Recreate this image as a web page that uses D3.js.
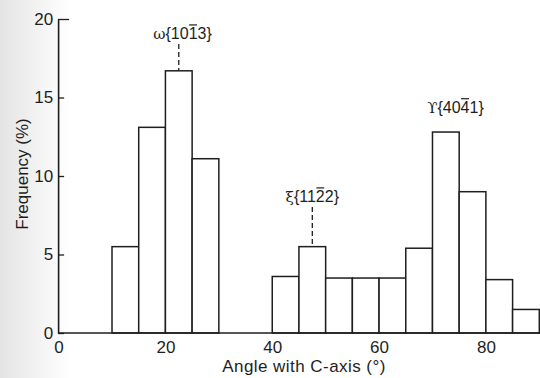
<!DOCTYPE html>
<html>
<head>
<meta charset="utf-8">
<script src="https://cdn.jsdelivr.net/npm/d3@7"></script>
<style>
  html, body { margin: 0; padding: 0; background: #fff; }
  svg { display: block; font-family: "Liberation Sans", Arial, sans-serif; }
</style>
</head>
<body>
<svg id="chart" width="540" height="378"></svg>
<script>
// Histogram of angles between twin planes and the C-axis
const binStarts = [10, 15, 20, 25, 40, 45, 50, 55, 60, 65, 70, 75, 80, 85];
const binWidth = 5;
const frequency = [5.5, 13.1, 16.7, 11.1, 3.6, 5.5, 3.5, 3.5, 3.5, 5.4, 12.8, 9.0, 3.4, 1.5];

const xTicks = [0, 20, 40, 60, 80];
const yTicks = [0, 5, 10, 15, 20];

// Twin-plane annotations: Greek symbol, Miller indices, index digit carrying the overbar,
// anchor angle and anchor frequency
const annoSymbols = ["ω", "ξ", "ϒ"];
const annoIndices = ["{1013}", "{1122}", "{4041}"];
const annoBarChar = [4, 4, 4];
const annoAngle = [23.2, 47.5, 74.3];
const annoFreq = [18.73, 8.35, 14.03];
const annoDashed = [true, true, false];
const annoBinIndex = [2, 5, 10];

const svg = d3.select("#chart");
const ink = "#1e1e1e";
const font = "Liberation Sans, Arial, sans-serif";

// faint shading along the left margin
const defs = svg.append("defs");
const grad = defs.append("linearGradient").attr("id", "shade").attr("x1", 0).attr("x2", 1);
grad.append("stop").attr("offset", 0).attr("stop-color", "#e4e4e4");
grad.append("stop").attr("offset", 1).attr("stop-color", "#ffffff");
svg.append("rect").attr("x", 0).attr("y", 0).attr("width", 70).attr("height", 378).attr("fill", "url(#shade)");

const x = d3.scaleLinear().domain([0, 90]).range([58.6, 539.3]);
const y = d3.scaleLinear().domain([0, 20]).range([333, 19]);

// bars
svg.append("g")
  .selectAll("rect")
  .data(binStarts)
  .join("rect")
  .attr("x", d => x(d))
  .attr("width", x(binWidth) - x(0))
  .attr("y", (d, i) => y(frequency[i]))
  .attr("height", (d, i) => y(0) - y(frequency[i]))
  .attr("fill", "#fff")
  .attr("stroke", ink)
  .attr("stroke-width", 1.5);

// x axis
const xAxis = svg.append("g")
  .attr("transform", `translate(0,${y(0)})`)
  .call(d3.axisBottom(x).tickValues(xTicks).tickSize(0).tickPadding(8));
xAxis.select(".domain").attr("stroke", ink).attr("stroke-width", 1.6).attr("d", `M${x(0) - 0.5},0H540`);
xAxis.selectAll("text").attr("font-size", 17).attr("fill", ink).attr("font-family", font);

// y axis with inward ticks
const yAxis = svg.append("g")
  .attr("transform", `translate(${x(0) - 0.5},0)`)
  .call(d3.axisLeft(y).tickValues(yTicks).tickSizeInner(-6).tickSizeOuter(0).tickPadding(5));
yAxis.select(".domain").attr("stroke", ink).attr("stroke-width", 1.6);
yAxis.selectAll(".tick line").attr("stroke", ink).attr("stroke-width", 1.3);
yAxis.selectAll(".tick").filter(d => d === 20).select("line").attr("x2", 11);
yAxis.selectAll("text").attr("font-size", 17).attr("fill", ink).attr("font-family", font);

// axis titles
svg.append("text")
  .attr("x", 304).attr("y", 372)
  .attr("text-anchor", "middle")
  .attr("font-size", 17).attr("letter-spacing", 0.45).attr("fill", ink)
  .text("Angle with C-axis (°)");

svg.append("text")
  .attr("transform", "translate(28,174) rotate(-90)")
  .attr("text-anchor", "middle")
  .attr("font-size", 17).attr("fill", ink)
  .text("Frequency (%)");

// annotations
annoSymbols.forEach((sym, i) => {
  const cx = x(annoAngle[i]);
  const by = y(annoFreq[i]);
  const t = svg.append("text")
    .attr("x", cx).attr("y", by)
    .attr("text-anchor", "middle")
    .attr("font-size", 16).attr("fill", ink);
  t.append("tspan").attr("font-family", "DejaVu Serif, serif").attr("font-size", 15).text(sym);
  t.append("tspan").text(annoIndices[i]);
  const node = t.node();
  const k = annoBarChar[i];
  const s = node.getStartPositionOfChar(k);
  const e = node.getEndPositionOfChar(k);
  svg.append("line")
    .attr("x1", s.x + 0.5).attr("x2", e.x - 0.5)
    .attr("y1", by - 14).attr("y2", by - 14)
    .attr("stroke", ink).attr("stroke-width", 1.2);
  if (annoDashed[i]) {
    const b = annoBinIndex[i];
    const lx = x(binStarts[b] + binWidth / 2);
    svg.append("line")
      .attr("x1", lx).attr("x2", lx)
      .attr("y1", by + 5).attr("y2", y(frequency[b]))
      .attr("stroke", ink).attr("stroke-width", 1.3)
      .attr("stroke-dasharray", "5,3");
  }
});
</script>
</body>
</html>
